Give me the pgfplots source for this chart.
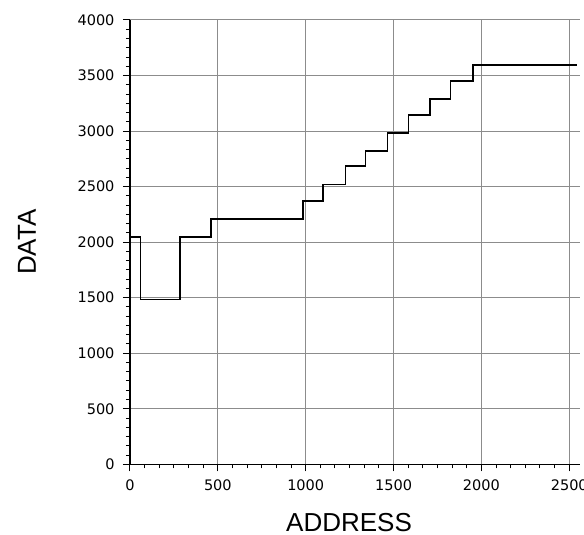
\documentclass[border=0pt]{standalone}
\usepackage{fontspec}
\setmainfont{Liberation Sans}
\newfontfamily\tickfont{DejaVu Sans}
\usepackage{pgfplots}
\pgfplotsset{compat=1.18}
\definecolor{gridgray}{HTML}{8C8C8C}
\begin{document}
\begin{tikzpicture}
\useasboundingbox (-130bp,-70.7bp) rectangle (454bp,464.3bp);
\clip (-130bp,-70.7bp) rectangle (454bp,464.3bp);
\begin{axis}[
  at={(0,0)}, anchor=south west,
  scale only axis, width=449.8bp, height=444.3bp,
  xmin=0, xmax=2560, ymin=0, ymax=4000,
  axis lines*=left,
  axis line style={line width=1.3bp, black},
  xtick={0,500,...,2500}, ytick={0,500,...,4000},
  minor x tick num=5, minor y tick num=5,
  tick align=outside,
  major tick length=7bp, minor tick length=4bp,
  tick style={black, line width=1bp},
  grid=major,
  major grid style={gridgray, line width=1bp},
  /pgf/number format/assume math mode=true,
  /pgf/number format/set thousands separator={},
  xticklabel style={font=\tickfont\fontsize{14.5bp}{17bp}\selectfont, yshift=-5bp},
  yticklabel style={font=\tickfont\fontsize{14.5bp}{17bp}\selectfont, xshift=-5bp},
  xlabel={ADDRESS}, ylabel={DATA},
  label style={font=\fontsize{26bp}{30bp}\selectfont},
  xlabel style={at={(axis description cs:0.487,-0.151)}, anchor=base},
  ylabel style={at={(axis description cs:-0.229,0.5)}, anchor=center},
]
\addplot[const plot, black, line width=1.6bp] coordinates {
  (0,2047) (59,1484) (283,2047) (461,2207) (985,2370) (1097,2520)
  (1227,2683) (1341,2821) (1465,2981) (1584,3144) (1709,3288)
  (1823,3451) (1952,3595) (2542,3595)
};
\end{axis}
\end{tikzpicture}
\end{document}
